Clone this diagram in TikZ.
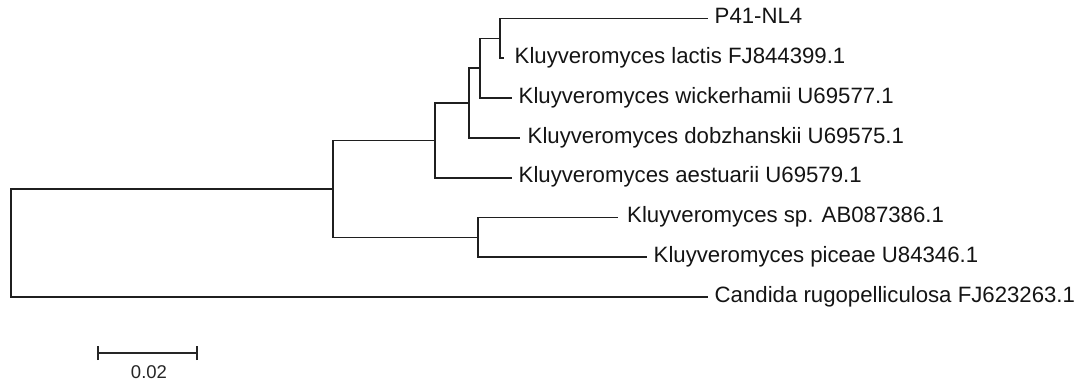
\documentclass[tikz,border=0pt]{standalone}
\usepackage{fontspec}
\setmainfont{Liberation Sans}
\begin{document}
\begin{tikzpicture}[x=1pt,y=-1pt,
  branch/.style={line width=1.8pt,line join=miter,line cap=rect,black!88},
  taxon/.style={anchor=base west,inner sep=0pt,font=\fontsize{22.2}{24}\selectfont,text=black!92},
  scalebar/.style={line width=1.7pt,black!85}]
\useasboundingbox (0,0) rectangle (1085,383);

% leaf tips
\coordinate (t1) at (707,18.5);
\coordinate (t2) at (503,58.3);
\coordinate (t3) at (511,98.1);
\coordinate (t4) at (519,137.9);
\coordinate (t5) at (511,177.7);
\coordinate (t6) at (617,217.5);
\coordinate (t7) at (646,257.3);
\coordinate (t8) at (707,297.1);

% internal nodes
\coordinate (nE) at (500,38.4);
\coordinate (nD) at (480,68.3);
\coordinate (nC) at (469,103.1);
\coordinate (nB) at (435,140.4);
\coordinate (nF) at (478,237.4);
\coordinate (nA) at (333,188.9);
\coordinate (nR) at (11,243.0);

% branches
\draw[branch] (t1) -| (nE) |- (t2);
\draw[branch] (nE) -| (nD) |- (t3);
\draw[branch] (nD) -| (nC) |- (t4);
\draw[branch] (nC) -| (nB) |- (t5);
\draw[branch] (t6) -| (nF) |- (t7);
\draw[branch] (nB) -| (nA) |- (nF);
\draw[branch] (nA) -| (nR) |- (t8);

% taxon labels
\node[taxon] (l1) at (714.5,18.5+5.2) {P41-NL4};
\node[taxon] (l2) at (514.5,58.3+5.2) {Kluyveromyces lactis FJ844399.1};
\node[taxon] (l3) at (518.5,98.1+5.2) {Kluyveromyces wickerhamii U69577.1};
\node[taxon] (l4) at (527.5,137.9+5.2) {Kluyveromyces dobzhanskii U69575.1};
\node[taxon] (l5) at (518.5,177.7+5.2) {Kluyveromyces aestuarii U69579.1};
\node[taxon] (l6) at (627,217.5+5.2) {Kluyveromyces sp. AB087386.1};
\node[taxon] (l7) at (653.5,257.3+5.2) {Kluyveromyces piceae U84346.1};
\node[taxon] (l8) at (714.5,297.1+5.2) {Candida rugopelliculosa FJ623263.1};

% scale bar
\coordinate (s0) at (98,353);
\coordinate (s1) at (197,353);
\draw[scalebar] (s0) -- (s1);
\draw[scalebar] ([yshift=-7pt]s0) -- ([yshift=7pt]s0);
\draw[scalebar] ([yshift=-7pt]s1) -- ([yshift=7pt]s1);
\node[anchor=base,inner sep=0pt,font=\fontsize{18.5}{20}\selectfont,text=black!85] (sl) at (149,378) {0.02};
\end{tikzpicture}
\end{document}
